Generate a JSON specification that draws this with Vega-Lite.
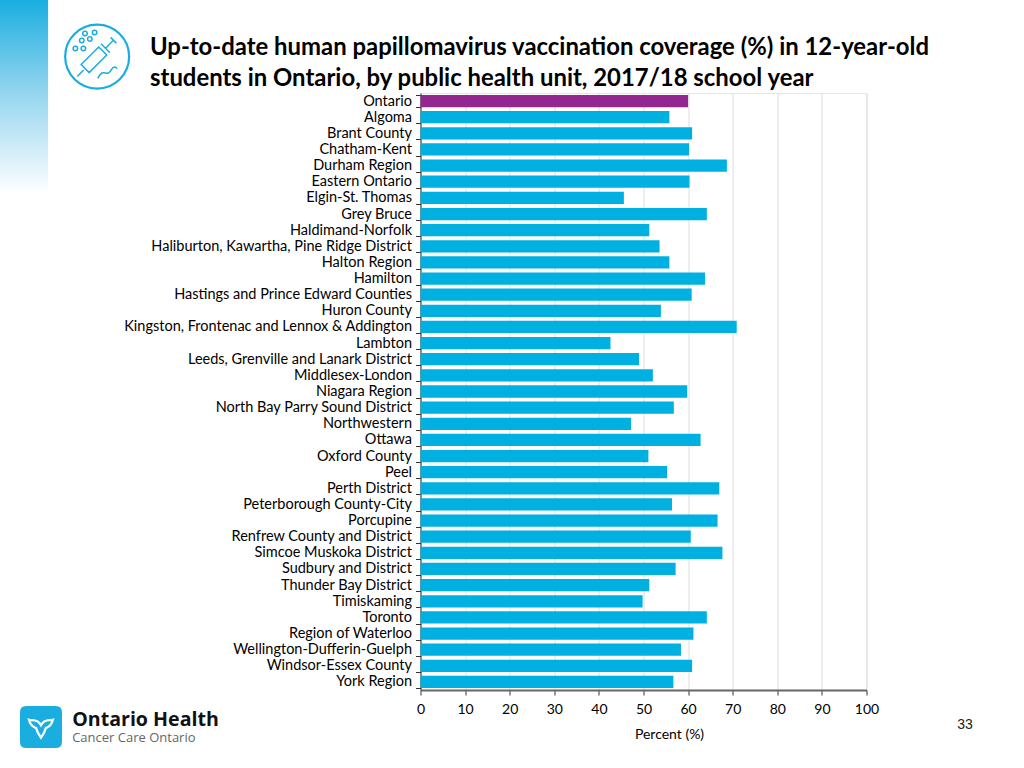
{
"$schema":"https://vega.github.io/schema/vega-lite/v6.json",
"autosize":"none","width":446,"height":597,
"padding":{"left":420.5,"top":93,"right":157.5,"bottom":78},
"background":"white",
"config":{"font":"Lato","view":{"stroke":"#e6e6e6"}},
"title":{"text":["Up-to-date human papillomavirus vaccination coverage (%) in 12-year-old","students in Ontario, by public health unit, 2017/18 school year"],"anchor":"start","frame":"group","dx":-270.5,"dy":110,"offset":0,"fontSize":23.9,"fontWeight":"bold","font":"Lato","color":"#000000","lineHeight":31,"baseline":"alphabetic"},
"data":{"values":[
{"unit":"Ontario","percent":60,"group":"Province"},
{"unit":"Algoma","percent":55.8,"group":"Unit"},
{"unit":"Brant County","percent":60.9,"group":"Unit"},
{"unit":"Chatham-Kent","percent":60.2,"group":"Unit"},
{"unit":"Durham Region","percent":68.7,"group":"Unit"},
{"unit":"Eastern Ontario","percent":60.3,"group":"Unit"},
{"unit":"Elgin-St. Thomas","percent":45.6,"group":"Unit"},
{"unit":"Grey Bruce","percent":64.2,"group":"Unit"},
{"unit":"Haldimand-Norfolk","percent":51.3,"group":"Unit"},
{"unit":"Haliburton, Kawartha, Pine Ridge District","percent":53.6,"group":"Unit"},
{"unit":"Halton Region","percent":55.8,"group":"Unit"},
{"unit":"Hamilton","percent":63.8,"group":"Unit"},
{"unit":"Hastings and Prince Edward Counties","percent":60.8,"group":"Unit"},
{"unit":"Huron County","percent":53.9,"group":"Unit"},
{"unit":"Kingston, Frontenac and Lennox & Addington","percent":70.9,"group":"Unit"},
{"unit":"Lambton","percent":42.6,"group":"Unit"},
{"unit":"Leeds, Grenville and Lanark District","percent":49,"group":"Unit"},
{"unit":"Middlesex-London","percent":52.1,"group":"Unit"},
{"unit":"Niagara Region","percent":59.8,"group":"Unit"},
{"unit":"North Bay Parry Sound District","percent":56.8,"group":"Unit"},
{"unit":"Northwestern","percent":47.2,"group":"Unit"},
{"unit":"Ottawa","percent":62.8,"group":"Unit"},
{"unit":"Oxford County","percent":51.1,"group":"Unit"},
{"unit":"Peel","percent":55.3,"group":"Unit"},
{"unit":"Perth District","percent":67,"group":"Unit"},
{"unit":"Peterborough County-City","percent":56.4,"group":"Unit"},
{"unit":"Porcupine","percent":66.6,"group":"Unit"},
{"unit":"Renfrew County and District","percent":60.6,"group":"Unit"},
{"unit":"Simcoe Muskoka District","percent":67.7,"group":"Unit"},
{"unit":"Sudbury and District","percent":57.2,"group":"Unit"},
{"unit":"Thunder Bay District","percent":51.3,"group":"Unit"},
{"unit":"Timiskaming","percent":49.8,"group":"Unit"},
{"unit":"Toronto","percent":64.2,"group":"Unit"},
{"unit":"Region of Waterloo","percent":61.2,"group":"Unit"},
{"unit":"Wellington-Dufferin-Guelph","percent":58.4,"group":"Unit"},
{"unit":"Windsor-Essex County","percent":60.9,"group":"Unit"},
{"unit":"York Region","percent":56.7,"group":"Unit"}
]},
"layer":[
{"mark":{"type":"bar"},
 "encoding":{
  "y":{"field":"unit","type":"nominal","sort":null,"scale":{"paddingInner":0.24,"paddingOuter":0.12},"title":null,
   "axis":{"labelFontSize":14.5,"labelColor":"#000000","labelPadding":4,"labelLimit":400,"ticks":true,"tickSize":5,"tickColor":"#333333","tickBand":"extent","domain":true,"domainColor":"#333333","grid":false}},
  "x":{"field":"percent","type":"quantitative","scale":{"domain":[0,100],"nice":false},"title":"Percent (%)",
   "axis":{"values":[0,10,20,30,40,50,60,70,80,90,100],"labelFlush":false,"labelFontSize":14,"labelColor":"#000000","labelPadding":7,"ticks":true,"tickSize":5,"tickColor":"#333333","domain":true,"domainColor":"#666666","domainWidth":2,"gridColor":"#dddddd","grid":true,"titleFontSize":14,"titleFontWeight":"normal","titleColor":"#000000","titleX":248.5,"titleY":37}},
  "color":{"field":"group","type":"nominal","legend":null,"scale":{"domain":["Province","Unit"],"range":["#92278F","#00B0E0"]}}
 }},
{"data":{"values":[{"decor":"strip"}]},
 "mark":{"type":"rect","fill":{"gradient":"linear","x1":0,"y1":0,"x2":0,"y2":1,"stops":[{"offset":0,"color":"#1AAEE0"},{"offset":0.45,"color":"#8FD3EE"},{"offset":1,"color":"#FFFFFF"}]},"yOffset":-101,"y2Offset":-20},
 "encoding":{"x":{"datum":-94.3},"x2":{"datum":-83.5},"y":{"datum":"Ontario","sort":null},"y2":{"datum":"Grey Bruce"}}},
{"data":{"values":[{"decor":"icon ring"}]},
 "mark":{"type":"point","filled":false,"opacity":1,"stroke":"#1AAEE0","strokeWidth":2.2,"yOffset":-44.5},
 "encoding":{"x":{"datum":-72.5},"y":{"datum":"Ontario","sort":null},"size":{"value":4096}}},
{"data":{"values":[{"decor":"icon syringe"}]},
 "mark":{"type":"point","filled":false,"opacity":1,"stroke":"#1AAEE0","strokeWidth":1.5,"yOffset":-44.5,"shape":"M-0.62,0.62 L-0.42,0.42 M-0.5,0.25 L-0.25,0.5 L0.3,-0.05 L0.05,-0.3 Z M0.12,-0.4 L0.4,-0.12 M0.27,-0.27 L0.5,-0.5 M0.42,-0.6 L0.6,-0.42 M-0.75,-0.25 a0.07,0.07 0 1 0 0.14,0 a0.07,0.07 0 1 0 -0.14,0 M-0.55,-0.5 a0.07,0.07 0 1 0 0.14,0 a0.07,0.07 0 1 0 -0.14,0 M-0.3,-0.55 a0.07,0.07 0 1 0 0.14,0 a0.07,0.07 0 1 0 -0.14,0 M-0.45,-0.72 a0.07,0.07 0 1 0 0.14,0 a0.07,0.07 0 1 0 -0.14,0 M-0.15,-0.75 a0.07,0.07 0 1 0 0.14,0 a0.07,0.07 0 1 0 -0.14,0 M-0.5,-0.25 a0.07,0.07 0 1 0 0.14,0 a0.07,0.07 0 1 0 -0.14,0 M0.02,0.68 C0.2,0.3 0.3,0.7 0.45,0.4 C0.52,0.28 0.6,0.32 0.62,0.38"},
 "encoding":{"x":{"datum":-72.5},"y":{"datum":"Ontario","sort":null},"size":{"value":4096}}},
{"data":{"values":[{"decor":"logo tile"}]},
 "mark":{"type":"point","filled":true,"opacity":1,"fill":"#1AAEE0","stroke":null,"yOffset":45,"shape":"M-0.7,-1 L0.7,-1 Q1,-1 1,-0.7 L1,0.7 Q1,1 0.7,1 L-0.7,1 Q-1,1 -1,0.7 L-1,-0.7 Q-1,-1 -0.7,-1 Z"},
 "encoding":{"x":{"datum":-85.1},"y":{"datum":"York Region","sort":null},"size":{"value":1764}}},
{"data":{"values":[{"decor":"logo trillium"}]},
 "mark":{"type":"point","filled":false,"opacity":1,"stroke":"#FFFFFF","strokeWidth":2.2,"yOffset":45,"shape":"M0,-0.15 C-0.3,-0.7 -0.7,-0.5 -1,-0.6 C-0.9,-0.2 -0.7,0 -0.4,0.1 C-0.3,0.5 -0.1,0.75 0,0.9 C0.1,0.75 0.3,0.5 0.4,0.1 C0.7,0 0.9,-0.2 1,-0.6 C0.7,-0.5 0.3,-0.7 0,-0.15 Z"},
 "encoding":{"x":{"datum":-85.1},"y":{"datum":"York Region","sort":null},"size":{"value":576}}},
{"data":{"values":[{"label":"Ontario Health"}]},
 "mark":{"type":"text","align":"left","font":"Open Sans","fontWeight":"bold","fontSize":19.6,"color":"#111111","yOffset":38},
 "encoding":{"text":{"field":"label"},"x":{"datum":-78.1},"y":{"datum":"York Region","sort":null}}},
{"data":{"values":[{"label":"Cancer Care Ontario"}]},
 "mark":{"type":"text","align":"left","font":"Open Sans","fontSize":13,"color":"#666666","yOffset":56},
 "encoding":{"text":{"field":"label"},"x":{"datum":-78.1},"y":{"datum":"York Region","sort":null}}},
{"data":{"values":[{"label":"33"}]},
 "mark":{"type":"text","align":"center","font":"Liberation Sans","fontSize":14,"color":"#222222","yOffset":43},
 "encoding":{"text":{"field":"label"},"x":{"datum":122.1},"y":{"datum":"York Region","sort":null}}}
]
}
